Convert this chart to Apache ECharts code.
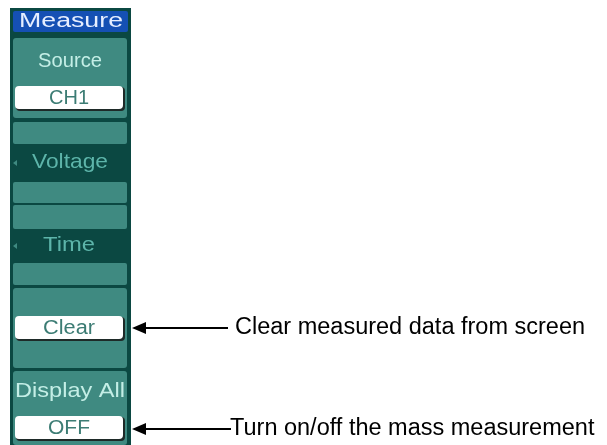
<!DOCTYPE html>
<html><head><meta charset="utf-8">
<script src="https://cdn.jsdelivr.net/npm/echarts@6/dist/echarts.min.js"></script>
<style>html,body{margin:0;padding:0;background:#fff}#c{width:607px;height:445px}</style>
</head><body><div id="c"></div>
<script>
var menuTitle = "Measure";
var sectionLabels = ["Source", "Voltage", "Time", "Display All"];
var buttonValues = ["CH1", "Clear", "OFF"];
var annotations = ["Clear measured data from screen", "Turn on/off the mass measurement"];

var DARK = "#0b4842", TEAL = "#3f8a81", BLUE = "#1550b4";
var LIGHT = "#c4eee6", MID = "#5db5aa", BTXT = "#3c7c74";
var F = "Liberation Sans";
var mctx = document.createElement("canvas").getContext("2d");
var g = [];
function rect(x, y, w, h, fill, r) { g.push({type:"rect", shape:{x:x,y:y,width:w,height:h,r:r||0}, style:{fill:fill}}); }
function txt(t, x, y, fill, size, align, targetW, weight) {
  var font = (weight ? weight + " " : "") + size + "px '" + F + "'";
  var s = 1;
  if (targetW) { mctx.font = font; s = targetW / mctx.measureText(t).width; }
  g.push({type:"text", x:x, y:y, scaleX:s, style:{text:t, fill:fill, font:font, textAlign:align||"center", textVerticalAlign:"middle"}});
}
function btn(t, y, w) {
  rect(16, y+1, 109, 24, "#1e2a28", 4);
  rect(15, y, 108, 23, "#ffffff", 4);
  txt(t, 69, y+12, BTXT, 20, "center", w);
}
function arrowTo(y, x0) {
  g.push({type:"line", shape:{x1:x0, y1:y, x2:140, y2:y}, style:{stroke:"#000", lineWidth:2}});
  g.push({type:"polygon", shape:{points:[[132,y],[146,y-6],[146,y+6]]}, style:{fill:"#000"}});
}
// panel
rect(10, 8, 121, 437, DARK);
rect(13, 11, 115, 21, BLUE, 2);
txt(menuTitle, 71, 21, "#e6eeff", 20, "center", 104);
// Source section
rect(13, 38, 114, 80, TEAL, 3);
txt(sectionLabels[0], 70, 61, LIGHT, 21, "center", 64);
btn(buttonValues[0], 86, 40);
rect(13, 122, 114, 22, TEAL, 2);
// Voltage row
txt(sectionLabels[1], 70, 162, MID, 21, "center", 76);
g.push({type:"polygon", shape:{points:[[13,163],[17,160],[17,166]]}, style:{fill:TEAL}});
rect(13, 182, 114, 21, TEAL, 2);
rect(13, 205, 114, 24, TEAL, 2);
// Time row
txt(sectionLabels[2], 69, 245, MID, 21, "center", 52);
g.push({type:"polygon", shape:{points:[[13,246],[17,243],[17,249]]}, style:{fill:TEAL}});
rect(13, 263, 114, 22, TEAL, 2);
// Clear section
rect(13, 288, 114, 80, TEAL, 3);
btn(buttonValues[1], 316, 52);
// Display All section
rect(13, 371, 114, 74, TEAL, 3);
txt(sectionLabels[3], 70, 391, LIGHT, 21, "center", 110);
btn(buttonValues[2], 416, 42);
// annotations
arrowTo(328, 228);
txt(annotations[0], 235, 328, "#000", 23.5, "left");
arrowTo(429, 231);
txt(annotations[1], 230, 429, "#000", 23.5, "left");

var chart = echarts.init(document.getElementById("c"), null, {renderer:"canvas"});
chart.setOption({animation:false, graphic:{elements:g}});
</script></body></html>
